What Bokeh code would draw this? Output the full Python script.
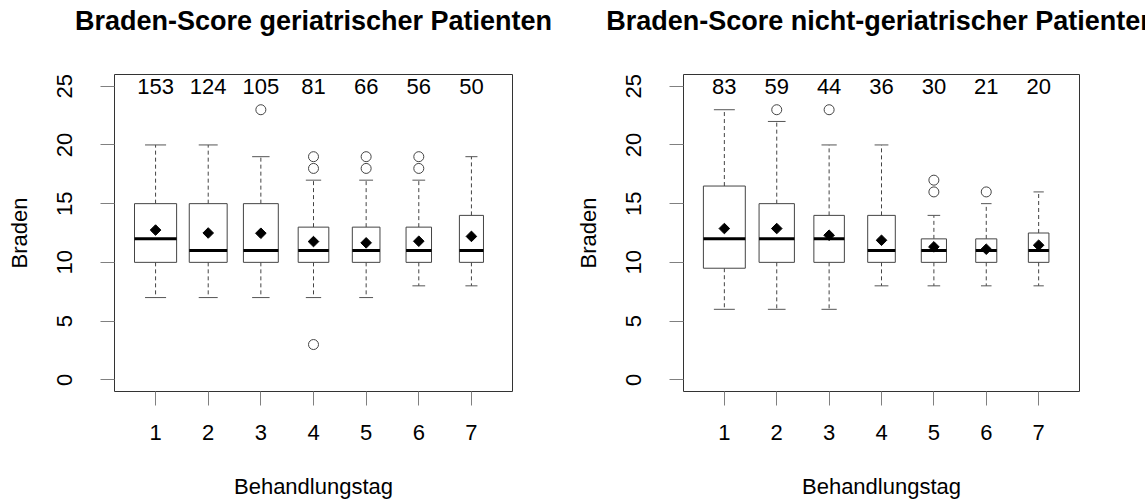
import math
from bokeh.plotting import figure
from bokeh.layouts import row
from bokeh.models import Range1d, FixedTicker, ColumnDataSource, Title
from bokeh.core.properties import value
from bokeh.embed import file_html
from bokeh.resources import INLINE

# ---------------- data ----------------
days = [1, 2, 3, 4, 5, 6, 7]
day_labels = ["1", "2", "3", "4", "5", "6", "7"]
y_ticks = [0, 5, 10, 15, 20, 25]

ger_title = "Braden-Score geriatrischer Patienten"
ger_n = [153, 124, 105, 81, 66, 56, 50]
ger_low = [7, 7, 7, 7, 7, 8, 8]
ger_q1 = [10, 10, 10, 10, 10, 10, 10]
ger_med = [12, 11, 11, 11, 11, 11, 11]
ger_q3 = [15, 15, 15, 13, 13, 13, 14]
ger_high = [20, 20, 19, 17, 17, 17, 19]
ger_mean = [12.75, 12.5, 12.48, 11.77, 11.66, 11.8, 12.21]
ger_out = [[], [], [23], [3, 18, 19], [18, 19], [18, 19], []]

ng_title = "Braden-Score nicht-geriatrischer Patienten"
ng_n = [83, 59, 44, 36, 30, 21, 20]
ng_low = [6, 6, 6, 8, 8, 8, 8]
ng_q1 = [9.5, 10, 10, 10, 10, 10, 10]
ng_med = [12, 12, 12, 11, 11, 11, 11]
ng_q3 = [16.5, 15, 14, 14, 12, 12, 12.5]
ng_high = [23, 22, 20, 20, 14, 15, 16]
ng_mean = [12.88, 12.88, 12.31, 11.88, 11.32, 11.12, 11.46]
ng_out = [[], [23], [23], [], [16, 17], [16], []]

FONT = "Liberation Sans"


def make_panel(title, n, low, q1, med, q3, high, mean, outl, width, border_left, border_right):
    p = figure(width=width, height=501, output_backend="svg", toolbar_location=None,
               x_range=Range1d(0.22, 7.78), y_range=Range1d(-1, 26),
               min_border_left=border_left, min_border_right=border_right,
               min_border_top=74, min_border_bottom=110, title=title)
    p.xgrid.visible = False
    p.ygrid.visible = False
    p.outline_line_color = "#333333"
    p.outline_line_width = 1
    p.background_fill_color = "white"
    p.border_fill_color = "white"

    # real title, pushed away from the frame by an invisible spacer title
    p.title.align = "center"
    p.title.standoff = 0
    p.title.text_font = FONT
    p.title.text_font_size = "27px"
    p.title.text_font_style = "bold"
    p.title.text_color = "black"
    p.add_layout(Title(text=" ", standoff=35, text_font_size="2px"), "above")

    # axes
    for ax in (p.xaxis[0], p.yaxis[0]):
        ax.axis_line_color = None
        ax.major_tick_in = 0
        ax.major_tick_out = 14
        ax.major_tick_line_color = "#808080"
        ax.minor_tick_line_color = None
        ax.major_label_text_font = FONT
        ax.major_label_text_font_size = "22px"
        ax.major_label_text_color = "black"
        ax.axis_label_text_font = FONT
        ax.axis_label_text_font_size = "22px"
        ax.axis_label_text_font_style = "normal"
        ax.axis_label_text_color = "black"
    p.xaxis.ticker = FixedTicker(ticks=days)
    p.xaxis.major_label_overrides = {d: l for d, l in zip(days, day_labels)}
    p.xaxis.major_label_standoff = 19
    p.xaxis.axis_label = "Behandlungstag"
    p.xaxis.axis_label_standoff = 31
    p.yaxis.ticker = FixedTicker(ticks=y_ticks)
    p.yaxis.major_label_orientation = "parallel"
    p.yaxis.major_label_standoff = 28
    p.yaxis.axis_label = "Braden"
    p.yaxis.axis_label_standoff = 23

    nmax = max(n)
    w = [0.8 * math.sqrt(k / nmax) for k in n]
    src = ColumnDataSource(dict(
        x=days, w=w, q1=q1, q3=q3, med=med, low=low, high=high, mean=mean,
        x0=[d - wi / 2 for d, wi in zip(days, w)],
        x1=[d + wi / 2 for d, wi in zip(days, w)],
        c0=[d - wi / 4 for d, wi in zip(days, w)],
        c1=[d + wi / 4 for d, wi in zip(days, w)],
        ntext=[str(k) for k in n], ny=[25] * len(days),
    ))

    # whiskers (dashed)
    p.segment(x0="x", y0="q3", x1="x", y1="high", source=src,
              line_color="#444444", line_width=1, line_dash="4 3")
    p.segment(x0="x", y0="q1", x1="x", y1="low", source=src,
              line_color="#444444", line_width=1, line_dash="4 3")
    # staples
    p.segment(x0="c0", y0="high", x1="c1", y1="high", source=src,
              line_color="#555555", line_width=1)
    p.segment(x0="c0", y0="low", x1="c1", y1="low", source=src,
              line_color="#555555", line_width=1)
    # boxes
    p.quad(left="x0", right="x1", bottom="q1", top="q3", source=src,
           fill_color="white", line_color="#444444", line_width=1)
    # medians
    p.segment(x0="x0", y0="med", x1="x1", y1="med", source=src,
              line_color="black", line_width=3)
    # means
    p.scatter(x="x", y="mean", source=src, marker="square", size=7.5,
              angle=math.pi / 4, fill_color="black", line_color="black")
    # outliers
    ox, oy = [], []
    for d, vals in zip(days, outl):
        for v in vals:
            ox.append(d)
            oy.append(v)
    p.scatter(x=ox, y=oy, marker="circle", size=10, fill_color=None,
              line_color="#444444", line_width=1)
    # counts
    p.text(x="x", y="ny", text="ntext", source=src, text_align="center",
           text_baseline="middle", text_font=value(FONT), text_font_size="22px",
           text_color="black")
    return p


p1 = make_panel(ger_title, ger_n, ger_low, ger_q1, ger_med, ger_q3, ger_high,
                ger_mean, ger_out, 572, 114, 60)
p2 = make_panel(ng_title, ng_n, ng_low, ng_q1, ng_med, ng_q3, ng_high,
                ng_mean, ng_out, 573, 109, 66)

layout = row(p1, p2, spacing=0)
open("out.html", "w").write(file_html(layout, INLINE))
